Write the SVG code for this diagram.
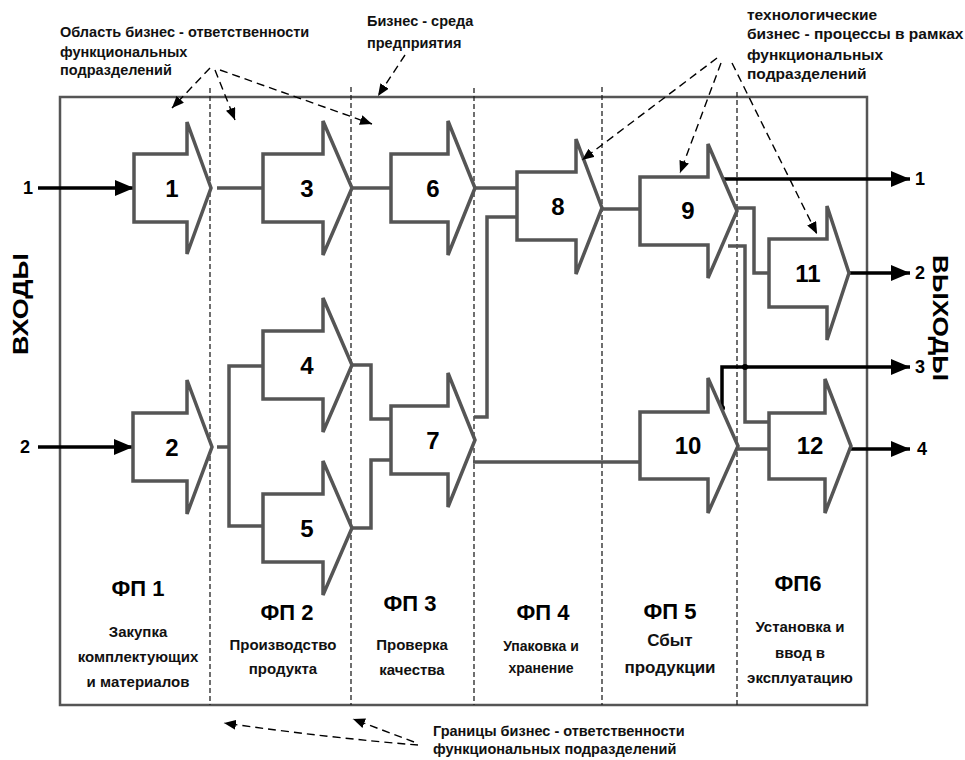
<svg xmlns="http://www.w3.org/2000/svg" width="965" height="760" viewBox="0 0 965 760">
<defs>
<style>
.frame{fill:none;stroke:#555;stroke-width:2.5}
.div{fill:none;stroke:#222;stroke-width:1.3;stroke-dasharray:5,3}
.blk{fill:white;stroke:#555;stroke-width:3.5;stroke-linejoin:miter}
.con{fill:none;stroke:#555;stroke-width:3.5}
.out{fill:none;stroke:#000;stroke-width:3.5}
.ann{fill:none;stroke:#000;stroke-width:1.4;stroke-dasharray:8,5}
.num{font-family:"Liberation Sans",Arial,sans-serif;font-weight:bold;font-size:24px;fill:#000;text-anchor:middle}
.io{font-family:"Liberation Sans",Arial,sans-serif;font-weight:bold;font-size:18px;fill:#000;text-anchor:middle}
.fp{font-family:"Liberation Sans",Arial,sans-serif;font-weight:bold;font-size:22px;fill:#000;text-anchor:middle}
.desc{font-family:"Liberation Sans",Arial,sans-serif;font-weight:bold;font-size:15px;fill:#111;text-anchor:middle}
.note{font-family:"Liberation Sans",Arial,sans-serif;font-weight:bold;font-size:14.5px;fill:#111}
.noter{font-family:"Liberation Sans",Arial,sans-serif;font-weight:bold;font-size:15.5px;fill:#111}
.side{font-family:"Liberation Sans",Arial,sans-serif;font-weight:bold;font-size:22px;fill:#000;text-anchor:middle}
</style>
<marker id="ah" markerUnits="userSpaceOnUse" markerWidth="20" markerHeight="16" refX="19" refY="8" orient="auto">
<path d="M0,0 L19,8 L0,16 z" fill="#000"/>
</marker>
<marker id="sa" markerUnits="userSpaceOnUse" markerWidth="13" markerHeight="10" refX="12" refY="5" orient="auto">
<path d="M0,0 L12,5 L0,10 z" fill="#000"/>
</marker>
</defs>
<rect width="965" height="760" fill="white"/>

<g id="frame">
<rect class="frame" x="60" y="97" width="807" height="608"/>
<line class="div" x1="210" y1="88" x2="210" y2="705"/>
<line class="div" x1="351" y1="87" x2="351" y2="705"/>
<line class="div" x1="474" y1="88" x2="474" y2="705"/>
<line class="div" x1="602" y1="87" x2="602" y2="705"/>
<line class="div" x1="737" y1="92" x2="737" y2="705"/>
</g>

<g id="connectors">
<polyline class="con" points="217,188 263,188"/>
<polyline class="con" points="352,188 391,188"/>
<polyline class="con" points="475,188 517,188"/>
<polyline class="con" points="474,417 487,417 487,217 517,217"/>
<polyline class="con" points="592,209 640,209"/>
<polyline class="con" points="730,208 754,208 754,273 769,273"/>
<polyline class="con" points="728,246 745,246 745,422 769,422"/>
<polyline class="con" points="738,449 769,449"/>
<polyline class="con" points="473,462 640,462"/>
<polyline class="con" points="352,365 371,365 371,419 391,419"/>
<polyline class="con" points="352,528 371,528 371,460 391,460"/>
<polyline class="con" points="217,447 229,447"/>
<polyline class="con" points="263,366 229,366 229,526 263,526"/>
<line class="out" x1="38" y1="188" x2="134" y2="188" marker-end="url(#ah)"/>
<line class="out" x1="38" y1="447" x2="133" y2="447" marker-end="url(#ah)"/>
<line class="out" x1="720" y1="179" x2="910" y2="179" marker-end="url(#ah)"/>
<line class="out" x1="849" y1="273" x2="910" y2="273" marker-end="url(#ah)"/>
<polyline class="out" points="722,408 722,367 910,367" marker-end="url(#ah)"/>
<line class="out" x1="851" y1="449" x2="910" y2="449" marker-end="url(#ah)"/>
<circle cx="720" cy="179" r="3" fill="#000"/>
<circle cx="722" cy="408" r="3" fill="#000"/>
<circle cx="745" cy="367" r="3" fill="#000"/>
</g>

<g id="n1"><polygon class="blk" points="134,154 187,154 187,122 211,188 187,254 187,222 134,222"/><text class="num" x="172" y="197">1</text></g>
<g id="n2"><polygon class="blk" points="133,413 187,413 187,380 212,447 187,514 187,481 133,481"/><text class="num" x="172" y="456">2</text></g>
<g id="n3"><polygon class="blk" points="263,154 323,154 323,121 352,188 323,255 323,222 263,222"/><text class="num" x="307" y="197">3</text></g>
<g id="n4"><polygon class="blk" points="263,331 323,331 323,298 352,365 323,432 323,399 263,399"/><text class="num" x="307" y="374">4</text></g>
<g id="n5"><polygon class="blk" points="263,494 323,494 323,461 352,528 323,595 323,562 263,562"/><text class="num" x="307" y="537">5</text></g>
<g id="n6"><polygon class="blk" points="391,154 448,154 448,121 475,188 448,255 448,222 391,222"/><text class="num" x="433" y="197">6</text></g>
<g id="n7"><polygon class="blk" points="391,406 448,406 448,373 475,440 448,507 448,474 391,474"/><text class="num" x="433" y="449">7</text></g>
<g id="n8"><polygon class="blk" points="517,172 576,172 576,139 602,208 576,274 576,240 517,240"/><text class="num" x="558" y="215">8</text></g>
<g id="n9"><polygon class="blk" points="640,177 708,177 708,144 737,211 708,278 708,245 640,245"/><text class="num" x="688" y="219">9</text></g>
<g id="n10"><polygon class="blk" points="640,412 708,412 708,378 738,446 708,513 708,479 640,479"/><text class="num" x="688" y="454">10</text></g>
<g id="n11"><polygon class="blk" points="769,239 827,239 827,206 849,273 827,340 827,307 769,307"/><text class="num" x="808" y="282">11</text></g>
<g id="n12"><polygon class="blk" points="769,413 825,413 825,379 851,446 825,513 825,479 769,479"/><text class="num" x="810" y="454">12</text></g>

<g id="io-labels">
<text class="io" x="28" y="194">1</text>
<text class="io" x="25" y="453">2</text>
<text class="io" x="920" y="185">1</text>
<text class="io" x="920" y="279">2</text>
<text class="io" x="920" y="373">3</text>
<text class="io" x="922" y="455">4</text>
<text class="side" transform="translate(28,304) rotate(-90)" textLength="102" lengthAdjust="spacingAndGlyphs">ВХОДЫ</text>
<text class="side" transform="translate(933,318) rotate(90)" textLength="126" lengthAdjust="spacingAndGlyphs">ВЫХОДЫ</text>
</g>

<g id="sections">
<text class="fp" x="138" y="596">ФП 1</text>
<text class="desc" x="138" y="637">Закупка</text>
<text class="desc" x="138" y="662">комплектующих</text>
<text class="desc" x="138" y="687">и материалов</text>
<text class="fp" x="287" y="620">ФП 2</text>
<text class="desc" x="283" y="650">Производство</text>
<text class="desc" x="283" y="674">продукта</text>
<text class="fp" x="410" y="611">ФП 3</text>
<text class="desc" x="412" y="650">Проверка</text>
<text class="desc" x="412" y="675">качества</text>
<text class="fp" x="543" y="620">ФП 4</text>
<text class="desc" x="541" y="651" style="font-size:14px">Упаковка и</text>
<text class="desc" x="541" y="673" style="font-size:14px">хранение</text>
<text class="fp" x="670" y="619">ФП 5</text>
<text class="desc" x="670" y="646" style="font-size:17px">Сбыт</text>
<text class="desc" x="670" y="673" style="font-size:17px">продукции</text>
<text class="fp" x="798" y="591">ФП6</text>
<text class="desc" x="800" y="632">Установка и</text>
<text class="desc" x="800" y="658">ввод в</text>
<text class="desc" x="800" y="683">эксплуатацию</text>
</g>

<g id="annotations">
<text class="note" x="60" y="37">Область бизнес - ответственности</text>
<text class="note" x="60" y="57">функциональных</text>
<text class="note" x="60" y="75">подразделений</text>
<text class="note" x="367" y="26">Бизнес - среда</text>
<text class="note" x="367" y="48">предприятия</text>
<text class="noter" x="747" y="20">технологические</text>
<text class="noter" x="747" y="39">бизнес - процессы в рамках</text>
<text class="noter" x="747" y="60">функциональных</text>
<text class="noter" x="747" y="79">подразделений</text>
<text class="note" x="433" y="736">Границы бизнес - ответственности</text>
<text class="note" x="433" y="754">функциональных подразделений</text>
<line class="ann" x1="210" y1="68" x2="172" y2="108" marker-end="url(#sa)"/>
<line class="ann" x1="215" y1="70" x2="235" y2="120" marker-end="url(#sa)"/>
<line class="ann" x1="220" y1="70" x2="372" y2="124" marker-end="url(#sa)"/>
<line class="ann" x1="405" y1="55" x2="378" y2="96" marker-end="url(#sa)"/>
<line class="ann" x1="717" y1="58" x2="582" y2="160" marker-end="url(#sa)"/>
<line class="ann" x1="721" y1="63" x2="680" y2="173" marker-end="url(#sa)"/>
<line class="ann" x1="732" y1="63" x2="817" y2="234" marker-end="url(#sa)"/>
<path class="ann" d="M418,745 Q330,738 224,723" marker-end="url(#sa)"/>
<line class="ann" x1="414" y1="742" x2="353" y2="719" marker-end="url(#sa)"/>
</g>
</svg>
